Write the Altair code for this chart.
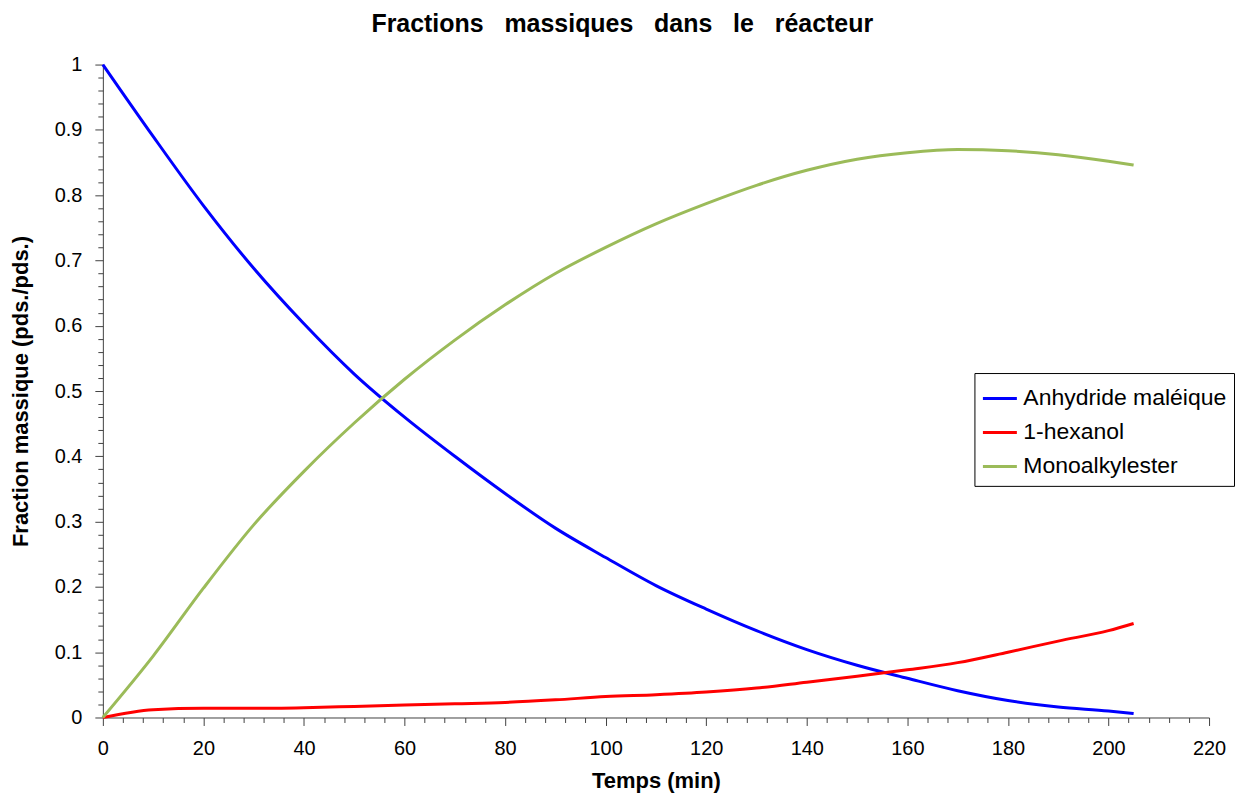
import altair as alt
import pandas as pd

time_min = [0, 10, 20, 30, 40, 50, 60, 70, 80, 90, 100, 110, 120, 130, 140, 150, 160, 170, 180, 190, 200, 205]
anhydride = [1.0, 0.89, 0.784, 0.688, 0.603, 0.526, 0.46, 0.40, 0.343, 0.29, 0.245, 0.202, 0.166, 0.133, 0.104, 0.08, 0.06, 0.041, 0.026, 0.016, 0.01, 0.006]
hexanol = [0.0, 0.012, 0.014, 0.014, 0.015, 0.017, 0.019, 0.021, 0.023, 0.027, 0.032, 0.035, 0.039, 0.045, 0.054, 0.063, 0.073, 0.084, 0.1, 0.117, 0.133, 0.144]
monoester = [0.0, 0.094, 0.198, 0.295, 0.377, 0.451, 0.518, 0.578, 0.632, 0.68, 0.72, 0.756, 0.787, 0.815, 0.838, 0.855, 0.865, 0.870, 0.868, 0.862, 0.852, 0.846]

series_names = ["Anhydride maléique", "1-hexanol", "Monoalkylester"]
series_colors = ["#0000FF", "#FF0000", "#9BBB59"]

x_ticks = list(range(0, 221, 4))
y_ticks = [round(i * 0.02, 2) for i in range(0, 51)]

rows = []
for name, vals in zip(series_names, [anhydride, hexanol, monoester]):
    for t, v in zip(time_min, vals):
        rows.append({"Temps": t, "Fraction": v, "Composé": name})
df = pd.DataFrame(rows)

FONT = "Liberation Sans, Arial, sans-serif"
GAP = "\u00a0\u00a0\u00a0"

x_axis = alt.Axis(
    values=x_ticks,
    labelExpr="datum.value % 20 === 0 ? datum.label : ''",
    format="d",
    tickSize={"condition": {"test": "datum.value % 20 === 0", "value": 8}, "value": 5},
    labelFlush=False,
    labelOverlap=False,
    grid=False,
    labelPadding=13,
    titleY=70,
    titleBaseline="alphabetic",
)
y_axis = alt.Axis(
    values=y_ticks,
    labelExpr="abs(datum.value * 10 - round(datum.value * 10)) < 0.000001 ? format(datum.value, '.1~f') : ''",
    tickSize={"condition": {"test": "abs(datum.value * 10 - round(datum.value * 10)) < 0.000001", "value": 8}, "value": 5},
    labelFlush=False,
    labelOverlap=False,
    grid=False,
    labelPadding=13,
    titleX=-75,
    titleBaseline="alphabetic",
)

chart = (
    alt.Chart(df)
    .mark_line(interpolate="monotone", strokeWidth=3)
    .encode(
        x=alt.X("Temps:Q", title="Temps (min)", scale=alt.Scale(domain=[0, 220], nice=False), axis=x_axis),
        y=alt.Y("Fraction:Q", title="Fraction massique (pds./pds.)", scale=alt.Scale(domain=[0, 1], nice=False), axis=y_axis),
        color=alt.Color(
            "Composé:N",
            scale=alt.Scale(domain=series_names, range=series_colors),
            legend=alt.Legend(
                orient="none",
                legendX=873,
                legendY=309,
                title=None,
                symbolType="stroke",
                symbolSize=1156,
                symbolStrokeWidth=3,
                labelFontSize=23,
                labelFont=FONT,
                labelColor="black",
                labelLimit=400,
                labelOffset=5,
                padding=7,
                rowPadding=3,
                strokeColor="black",
                fillColor="white",
            ),
        ),
        order=alt.Order("Temps:Q"),
    )
    .properties(
        width=1108,
        height=654,
        autosize="none",
        padding={"left": 95, "top": 56, "right": 30, "bottom": 78},
        title=alt.TitleParams(
            GAP.join(["Fractions", "massiques", "dans", "le", "réacteur"]),
            font=FONT,
            fontSize=25,
            fontWeight="bold",
            color="black",
            anchor="middle",
            frame="bounds",
            baseline="alphabetic",
            offset=-2,
        ),
    )
    .configure_view(stroke=None)
    .configure_axis(
        labelFont=FONT,
        labelFontSize=20,
        labelColor="black",
        titleFont=FONT,
        titleFontSize=22,
        titleFontWeight="bold",
        titleColor="black",
        domainColor="#404040",
        tickColor="#404040",
        domainWidth=1,
        tickWidth=1,
    )
)

chart.save("out.html", embed_options={"renderer": "svg", "actions": False})
